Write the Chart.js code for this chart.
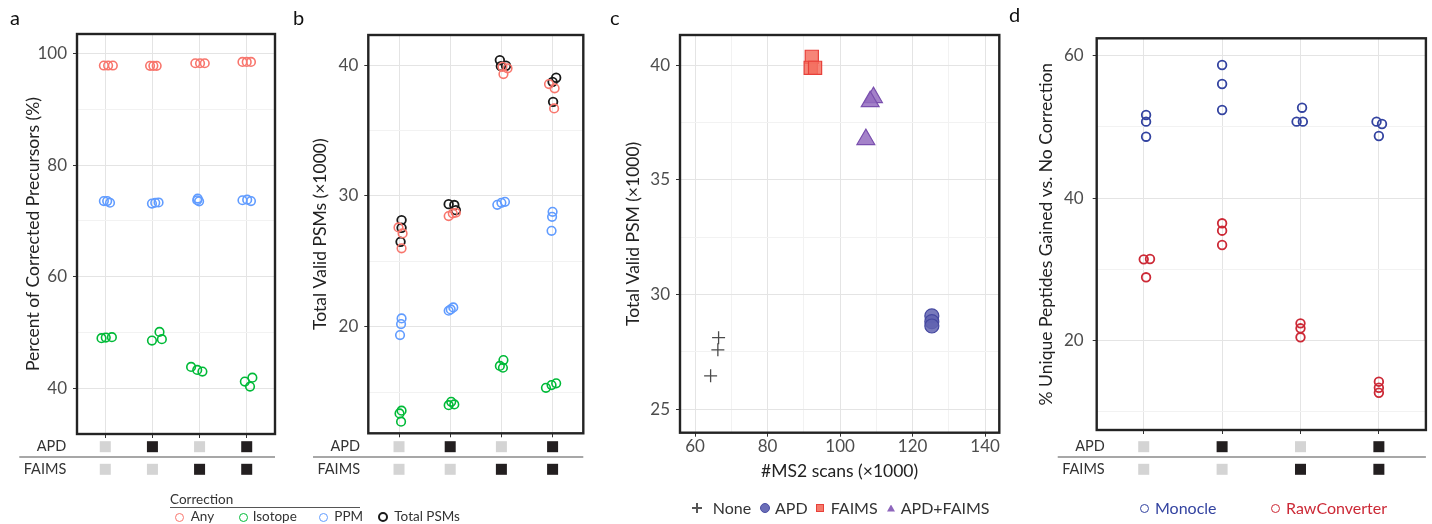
<!DOCTYPE html>
<html><head><meta charset="utf-8">
<script src="https://cdn.jsdelivr.net/npm/chart.js@4.4.1/dist/chart.umd.min.js"></script>
<style>
body{margin:0;background:#fff;}
#wrap{position:relative;width:1432px;height:524px;overflow:hidden;background:#fff;font-family:Lato,sans-serif;color:#333;}
canvas{position:absolute;top:0;}
.t{position:absolute;white-space:nowrap;line-height:1;}
.lab{position:absolute;font-size:20px;color:#111;}
.oc{position:absolute;border-radius:50%;box-sizing:border-box;background:transparent;}
</style></head>
<body><div id="wrap">
<canvas id="ca" width="290" height="524" style="left:0"></canvas>
<canvas id="cb" width="310" height="524" style="left:290px"></canvas>
<canvas id="cc" width="420" height="524" style="left:600px"></canvas>
<canvas id="cd" width="412" height="524" style="left:1020px"></canvas>

<div class="lab" style="left:10px;top:5px">a</div>
<div class="lab" style="left:293px;top:5px">b</div>
<div class="lab" style="left:610px;top:5px">c</div>
<div class="lab" style="left:1009px;top:2px">d</div>

<!-- legend a/b -->
<div class="t" style="left:170px;top:493px;font-size:13.5px;color:#333">Correction</div>
<div style="position:absolute;left:170px;top:507px;width:190px;height:1px;background:#555"></div>
<div class="oc" style="left:174.5px;top:512.5px;width:9px;height:9px;border:1.8px solid #F8766D"></div>
<div class="t" style="left:190.7px;top:510px;font-size:13.5px">Any</div>
<div class="oc" style="left:238.8px;top:512.5px;width:9px;height:9px;border:1.8px solid #00BA38"></div>
<div class="t" style="left:252.7px;top:510px;font-size:13.5px">Isotope</div>
<div class="oc" style="left:318.8px;top:512.5px;width:9px;height:9px;border:1.8px solid #619CFF"></div>
<div class="t" style="left:334.3px;top:510px;font-size:13.5px">PPM</div>
<div class="oc" style="left:378.3px;top:511.5px;width:10px;height:10px;border:2.6px solid #1A1A1A"></div>
<div class="t" style="left:394.3px;top:510px;font-size:13.5px">Total PSMs</div>

<!-- legend c -->
<div style="position:absolute;left:692px;top:507.3px;width:10px;height:1.4px;background:#555"></div>
<div style="position:absolute;left:696.3px;top:503px;width:1.4px;height:10px;background:#555"></div>
<div class="t" style="left:712.7px;top:500px;font-size:16px">None</div>
<div class="oc" style="left:760px;top:503px;width:10px;height:10px;background:#6B6EB8;border:1px solid #4B4EA3"></div>
<div class="t" style="left:775px;top:500px;font-size:16px">APD</div>
<div style="position:absolute;left:816.3px;top:504.3px;width:7.4px;height:7.4px;box-sizing:border-box;background:#F47A6A;border:1px solid #E8403A"></div>
<div class="t" style="left:830.7px;top:500px;font-size:16px">FAIMS</div>
<div style="position:absolute;left:887px;top:504.5px;width:8px;height:7px;background:#8E66BC;clip-path:polygon(50% 0,100% 100%,0 100%)"></div>
<div class="t" style="left:900.7px;top:500px;font-size:16px">APD+FAIMS</div>

<!-- legend d -->
<div class="oc" style="left:1139.5px;top:503.5px;width:9px;height:9px;border:1.8px solid #3343A0"></div>
<div class="t" style="left:1155px;top:500px;font-size:16px;color:#3343A0">Monocle</div>
<div class="oc" style="left:1270.8px;top:503.5px;width:9px;height:9px;border:1.8px solid #CC2936"></div>
<div class="t" style="left:1286px;top:500px;font-size:16px;color:#CC2936">RawConverter</div>
</div>
<script>
const FONT = 'Lato';
// ---- shared categorical design ----
const conditions = ['None', 'APD', 'FAIMS', 'APD+FAIMS'];
const catIndex = [1,1,1, 2,2,2, 3,3,3, 4,4,4];
const apdOn   = [0, 1, 0, 1];
const faimsOn = [0, 0, 1, 1];

// ---- panel a: Percent of corrected precursors ----
const aTicks = [40, 60, 80, 100];
const aMinor = [50, 70, 90];
const aAny    = [97.85,97.85,97.85, 97.8,97.8,97.8, 98.26,98.26,98.26, 98.5,98.5,98.5];
const aAnyJit = [-0.03,0.06,0.16, -0.05,0.02,0.09, -0.09,0.01,0.11, -0.09,0.0,0.09];
const aIso    = [48.97,49.08,49.15, 48.54,50.1,48.8, 43.83,43.29,42.99, 41.2,40.3,41.9];
const aIsoJit = [-0.08,0.01,0.14, -0.01,0.15,0.2, -0.18,-0.05,0.06, -0.04,0.07,0.12];
const aPpm    = [73.55,73.55,73.25, 73.1,73.25,73.3, 73.7,74.0,73.5, 73.7,73.8,73.55];
const aPpmJit = [-0.03,0.04,0.1, -0.01,0.06,0.13, -0.05,-0.04,-0.01, -0.09,0.01,0.09];

// ---- panel b: Total valid PSMs (x1000) ----
const bTicks = [20, 30, 40];
const bMinor = [15, 25, 35];
const bAny      = [27.59,27.13,25.99, 28.46,28.66,28.71, 39.31,39.75,39.87, 38.55,38.22,36.69];
const bAnyJit   = [-0.01,0.07,0.05, -0.03,0.05,0.11, 0.04,0.12,0.02, -0.07,0.04,0.03];
const bIso      = [13.37,13.58,12.74, 14.0,14.26,14.06, 17.0,17.45,16.86, 15.33,15.54,15.67];
const bIsoJit   = [0.01,0.05,0.04, -0.03,0.02,0.08, -0.03,0.04,0.03, -0.13,-0.02,0.07];
const bPpm      = [20.63,20.2,19.36, 21.22,21.32,21.47, 29.32,29.47,29.55, 28.4,28.78,27.33];
const bPpmJit   = [0.05,0.04,0.02, -0.03,0.01,0.06, -0.08,0.0,0.07, -0.01,0.0,-0.02];
const bTotal    = [28.15,27.56,26.49, 29.37,29.30,28.91, 40.38,39.92,39.95, 38.72,39.03,37.19];
const bTotalJit = [0.05,0.05,0.03, -0.03,0.08,0.11, -0.03,-0.01,0.09, 0.0,0.07,0.01];

// ---- panel c: MS2 scans vs valid PSM ----
const cXTicks = [60, 80, 100, 120, 140];
const cXMinor = [70, 90, 110, 130];
const cYTicks = [25, 30, 35, 40];
const cYMinor = [27.5, 32.5, 37.5];
const cNoneX  = [66.5, 66.3, 64.3];    const cNoneY  = [28.12, 27.59, 26.46];
const cApdX   = [125.3, 125.3, 125.3]; const cApdY   = [29.07, 28.82, 28.63];
const cFaimsX = [92.2, 91.9, 93.1];    const cFaimsY = [40.36, 39.88, 39.88];
const cBothX  = [109.2, 108.3, 107.1]; const cBothY  = [38.59, 38.41, 36.76];

// ---- panel d: % unique peptides gained ----
const dTicks = [20, 40, 60];
const dMinor = [10, 30, 50];
const dMono    = [51.68,50.74,48.63, 58.69,56.03,52.38, 50.74,52.7,50.74, 50.74,50.41,48.73];
const dMonoJit = [0.03,0.03,0.03, 0,0,0, -0.05,0.02,0.03, -0.03,0.04,0];
const dRaw     = [31.42,31.47,28.9, 36.48,35.44,33.43, 22.44,21.74,20.48, 14.25,13.4,12.7];
const dRawJit  = [0,0.08,0.03, 0,0,0, 0,0,0, 0,0,0];

// ---------- helpers ----------
const GRID_MAJOR = '#E4E4E4', GRID_MINOR = '#F2F2F2';
const TICK_SIZE = 17, TITLE_SIZE = 17.5;
function pts(vals, jit){ return vals.map((v,i)=>({x: catIndex[i] + jit[i], y: v})); }
function xy(xs, ys){ return xs.map((x,i)=>({x, y: ys[i]})); }

function linAxis(pos, min, max, major, minor, title, o){
  const isMajor = v => major.includes(v);
  return {
    type:'linear', position:pos, min, max,
    afterBuildTicks: sc => { sc.ticks = major.concat(minor).sort((p,q)=>p-q).map(v=>({value:v})); },
    afterFit: sc => {
      if (pos === 'left') sc.width = o.size; else sc.height = o.size;
      sc.paddingTop = 0; sc.paddingBottom = 0; sc.paddingLeft = 0; sc.paddingRight = 0;
    },
    ticks:{ autoSkip:false, maxRotation:0, padding:o.tickPad, color:'#4D4D4D',
            font:{family:FONT, size:TICK_SIZE}, callback: v => isMajor(v) ? String(v) : '' },
    grid:{ color: c => (c.tick && isMajor(c.tick.value)) ? GRID_MAJOR : GRID_MINOR,
           tickColor: c => (c.tick && isMajor(c.tick.value)) ? '#333' : 'rgba(0,0,0,0)',
           tickLength:4, lineWidth:1 },
    border:{display:false},
    title:{display:!!title, text:title, color:'#222', font:{family:FONT, size:TITLE_SIZE},
           padding: pos === 'left' ? {top:o.titlePad, bottom:0} : {top:0, bottom:o.titlePad}}
  };
}
function catAxis(h){
  return {
    type:'linear', position:'bottom', min:0.4, max:4.6,
    afterBuildTicks: sc => { sc.ticks = conditions.map((c,i)=>({value:i+1})); },
    afterFit: sc => { sc.height = h; sc.paddingLeft = 0; sc.paddingRight = 0; },
    ticks:{display:false},
    grid:{color:GRID_MAJOR, tickColor:'#333', tickLength:4, lineWidth:1},
    border:{display:false}
  };
}
function openDS(label, data, color, bw, r){
  return {label, data, showLine:false, pointStyle:'circle', pointRadius:r||4.3, pointHoverRadius:r||4.3,
          pointBorderWidth:bw||1.6, pointBorderColor:color, borderColor:color,
          pointBackgroundColor:'rgba(0,0,0,0)', backgroundColor:'rgba(0,0,0,0)'};
}
const framePlugin = {
  id:'frame',
  afterDraw(chart){
    const {ctx, chartArea:a} = chart;
    ctx.save(); ctx.strokeStyle = '#232323'; ctx.lineWidth = 2.4;
    ctx.strokeRect(a.left, a.top, a.right - a.left, a.bottom - a.top);
    ctx.restore();
  }
};
const indicatorPlugin = {
  id:'indicators',
  afterDraw(chart){
    const x = chart.scales.x, ctx = chart.ctx;
    const firstX = x.getPixelForValue(1);
    const labelRight = firstX - 39;
    const yA = 446.7, yF = 469.3, sq = 11;
    ctx.save();
    ctx.font = '14.5px ' + FONT; ctx.fillStyle = '#333';
    ctx.textAlign = 'right'; ctx.textBaseline = 'middle';
    ctx.fillText('APD', labelRight, yA);
    ctx.fillText('FAIMS', labelRight, yF);
    ctx.strokeStyle = '#8A8A8A'; ctx.lineWidth = 1.5;
    ctx.beginPath(); ctx.moveTo(labelRight - 47, 457); ctx.lineTo(chart.chartArea.right, 457); ctx.stroke();
    conditions.forEach((c,i)=>{
      const px = x.getPixelForValue(i+1);
      ctx.fillStyle = apdOn[i] ? '#231F20' : '#D4D4D4';
      ctx.fillRect(px - sq/2, yA - sq/2, sq, sq);
      ctx.fillStyle = faimsOn[i] ? '#231F20' : '#D4D4D4';
      ctx.fillRect(px - sq/2, yF - sq/2, sq, sq);
    });
    ctx.restore();
  }
};
function baseOptions(pad, scales){
  return {
    responsive:false, animation:false, devicePixelRatio:1,
    layout:{padding:pad},
    plugins:{legend:{display:false}, tooltip:{enabled:false}},
    events:[],
    scales
  };
}

// ---------- panel a ----------
new Chart(document.getElementById('ca'), {
  type:'scatter',
  data:{datasets:[
    openDS('Any', pts(aAny, aAnyJit), '#F8766D'),
    openDS('Isotope', pts(aIso, aIsoJit), '#00BA38'),
    openDS('PPM', pts(aPpm, aPpmJit), '#619CFF')
  ]},
  options: baseOptions({top:34, bottom:50, left:0, right:15}, {
    x: catAxis(40),
    y: linAxis('left', 31.8, 103.5, aTicks, aMinor, 'Percent of Corrected Precursors (%)', {size:77, tickPad:6, titlePad:22.5})
  }),
  plugins:[framePlugin, indicatorPlugin]
});

// ---------- panel b ----------
new Chart(document.getElementById('cb'), {
  type:'scatter',
  data:{datasets:[
    openDS('Any', pts(bAny, bAnyJit), '#F8766D'),
    openDS('Isotope', pts(bIso, bIsoJit), '#00BA38'),
    openDS('PPM', pts(bPpm, bPpmJit), '#619CFF'),
    openDS('Total PSMs', pts(bTotal, bTotalJit), '#1A1A1A', 1.8)
  ]},
  options: baseOptions({top:35, bottom:50.7, left:0, right:16.7}, {
    x: catAxis(40),
    y: linAxis('left', 11.85, 42.3, bTicks, bMinor, 'Total Valid PSMs (\u00d71000)', {size:78.3, tickPad:6, titlePad:19.5})
  }),
  plugins:[framePlugin, indicatorPlugin]
});

// ---------- panel c ----------
new Chart(document.getElementById('cc'), {
  type:'scatter',
  data:{datasets:[
    {label:'None', data:xy(cNoneX, cNoneY), pointStyle:'cross', pointRadius:6.5, pointBorderWidth:1.3,
     pointBorderColor:'#4A4A4A', borderColor:'#4A4A4A', showLine:false},
    {label:'APD', data:xy(cApdX, cApdY), pointStyle:'circle', pointRadius:7, pointBorderWidth:1.2,
     pointBackgroundColor:'rgba(96,99,176,0.85)', backgroundColor:'rgba(96,99,176,0.85)',
     pointBorderColor:'#4548A0', borderColor:'#4548A0', showLine:false},
    {label:'FAIMS', data:xy(cFaimsX, cFaimsY), pointStyle:'rect', pointRadius:9.3, pointBorderWidth:1.2,
     pointBackgroundColor:'rgba(244,112,96,0.85)', backgroundColor:'rgba(244,112,96,0.85)',
     pointBorderColor:'#E8403A', borderColor:'#E8403A', showLine:false},
    {label:'APD+FAIMS', data:xy(cBothX, cBothY), pointStyle:'triangle', pointRadius:10.3, pointBorderWidth:1.2,
     pointBackgroundColor:'rgba(148,108,192,0.85)', backgroundColor:'rgba(148,108,192,0.85)',
     pointBorderColor:'#7A4FAE', borderColor:'#7A4FAE', showLine:false}
  ]},
  options: baseOptions({top:35, bottom:41.3, left:0, right:20.7}, {
    x: linAxis('bottom', 55.86, 143.9, cXTicks, cXMinor, '#MS2 scans (\u00d71000)', {size:50, tickPad:0, titlePad:0.5}),
    y: linAxis('left', 23.98, 41.31, cYTicks, cYMinor, 'Total Valid PSM (\u00d71000)', {size:80, tickPad:6, titlePad:22.8})
  }),
  plugins:[framePlugin]
});

// ---------- panel d ----------
new Chart(document.getElementById('cd'), {
  type:'scatter',
  data:{datasets:[
    openDS('Monocle', pts(dMono, dMonoJit), '#3343A0', 1.8),
    openDS('RawConverter', pts(dRaw, dRawJit), '#CC2936', 1.8)
  ]},
  options: baseOptions({top:38.3, bottom:54, left:0, right:4.3}, {
    x: catAxis(40),
    y: linAxis('left', 7.47, 62.44, dTicks, dMinor, '% Unique Peptides Gained vs. No Correction', {size:76.7, tickPad:9, titlePad:15.5})
  }),
  plugins:[framePlugin, indicatorPlugin]
});
</script>
</body></html>
